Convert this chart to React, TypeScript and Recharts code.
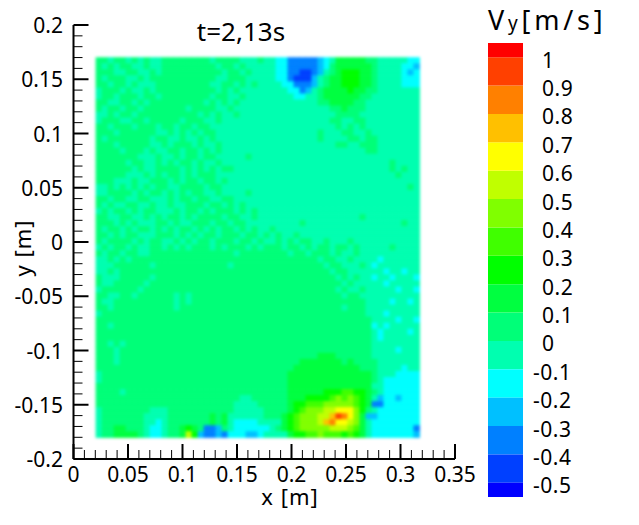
import { Bar, BarChart, Scatter, ScatterChart, XAxis, YAxis } from "recharts";

// contour bands, low to high: lower bound of each band and its colour
const bandKeys = ["a", "b", "c", "d", "e", "f", "g", "h", "i", "j", "k", "l", "m", "n", "o", "p", "q"];
const bandLows = [-0.55, -0.5, -0.4, -0.3, -0.2, -0.1, 0, 0.1, 0.2, 0.3, 0.4, 0.5, 0.6, 0.7, 0.8, 0.9, 1];
const bandHighs = [-0.5, -0.4, -0.3, -0.2, -0.1, 0, 0.1, 0.2, 0.3, 0.4, 0.5, 0.6, 0.7, 0.8, 0.9, 1, 1.05];
const bandColors = [
  "#0000ff", "#0040ff", "#0080ff", "#00c0ff", "#00ffff", "#00ffb0", "#00ff78", "#00ff40", "#00ff00",
  "#40ff00", "#80ff00", "#c0ff00", "#ffff00", "#ffc000", "#ff8000", "#ff4000", "#ff0000",
];
const legendTicks = [1, 0.9, 0.8, 0.7, 0.6, 0.5, 0.4, 0.3, 0.2, 0.1, 0, -0.1, -0.2, -0.3, -0.4, -0.5];

// measured field, top row first, one letter per cell = its band in bandKeys
const fieldRows = [
  "ggfggf gfgffg gggggg gfgggg fffgff eecccc cdefhh hhhggf ffffee",
  "gfgfgg ffgffg gggggg ggfggf gfffff eecccc cdeghh hhhhgf fffeed",
  "gggffg gffgfg gggggg gggfgg fgffff eeccbb cdfghi iihhgf fffede",
  "gfgggf fgfggg gggggg ggffgg gfffff eecbbb dfghhi iihhgf fffeee",
  "ggfggf gfffgg gggggg gffggf gfgfff feeccc dfghhi iihhgf fffeee",
  "fgggfg ffgfgg gggggg ggfgfg ffffff ffeecd fghhhh ihhggf ffffff",
  "fggfgg gfggfg gggggg gfggff gfffff fffeef fghhhh hhggff ffffff",
  "ggffgg fgfggg gggggg fgfgfg ffffff ffffff fgghhh hggfff ffffff",
  "gfggfg gfgggg gggfgg ggffgf ffffff ffffff fffggh gggfff ffffff",
  "ffgfgg fggggg gggggf gfgffg ffffff ffffff ffffgg ggffff ffffff",
  "fgggff ggfggg ggfggg ffgfff ffffff ffffff fffggf fggfff ffffff",
  "ggfggg fgggfg gfggfg gfffff ffffff ffffff ffffgf gfgfff ffffff",
  "gggfgg ggggff gfgfgf ggffff ffffff ffffff fgfffg gffgff ffffff",
  "gfgggg gggfgg ffgffg fgffff ffffff ffffff fgffff ggfggf ffffff",
  "gggfgg gggffg fgggfg ffgfff ffffff ffffff ffffgg ffgggf ffffff",
  "ggggfg ggfgff ggfggf gfgfff ffffff ffffff ffffff fffggf ffffff",
  "gggggg gfffgf fgfggf ggffff fgffff ffffff ffffff ffffff ffffff",
  "gggggf ggffgf gfggfg ffgfff ffffff ffffff ffffff ffffff fgffff",
  "gggggg fgffgg ggfgfg fgfggf ffffff ffffff ffffff ffffff fgfgff",
  "gggggf ffgfgf ggfgfg ggffff ffffff ffffff ffffff ffffff ffgfff",
  "gggfff gffggg fgfggf ggfgff ffffff ffffff ffffff ffffff ffffff",
  "ffgfgf gfgfgg ffgggg fggfff ffffff ffffff ffffff ffffff ffffgf",
  "ffgggg fgfggf gfgfgg ffgfff fgffff ffffff ffffff ffffff ffffff",
  "ggfggf fggfff gfggfg gffggf ffffff ffffff ffffff ffffff ffffff",
  "gfgffg gffgff gffggg fggfgf gfffff ffffff ffffff ffffff ffffff",
  "fgfggf gfggff fgfggf gfgggf gfgfff ffffff ffffff ffffff ffffff",
  "ggffgg ffgfgf ggfgfg gggfgg ffgfff ffffff ffffff ffgfff ffffff",
  "gggfgf gfffgg fgffgg gfggfg gfffff ffffgf ffffff ffffff fffgff",
  "gfggfg fggfgf gfggfg fgfggf gfgffg ffffff ffffff ffffff ffffff",
  "ggfgfg gfffgg gfgfgf ggfggg fggfgf gffgff ffffff ffffff ffffff",
  "gfgggg fgfggf fgfgfg gfgggf ggfgff gfgfgg ffgfff gfffff ffffff",
  "fgfggf gffggf gfgfgg gfgfgg gfgfgg gfggfg fggfgg fgffff fgffff",
  "gfggfg gffggg gggggg gggggf gggggg ggfggf gggfgf fgffff ffffff",
  "ffgfgf gggggg gggggg gggggg gggggg gggggg gfggff gffffe ffffff",
  "fffggg gggfgg gggggg ggggfg gggggg gggggg ggfggf ffgfef ffffff",
  "ffgfgg gggggg gggggg gggggg gggggg gggggg gggfgg ffffff effeff",
  "gfffgg gggfgg gggggg gggggg gggggg gggggg ggggfg fgffef fefffe",
  "gffggg ggfggg gggggg gggggg gggggg gggggg gggggf gfffff efffff",
  "fggggg gfgggg gggggg gggggg gggggg gggggg ggggfg ffgfff ffeffe",
  "ggffgg fggggg gfgfgg gggggg gggggg gggggg gggggf ggffff ffffff",
  "gffggg gggggg gfgfgg gggggg gggggg gggggg gggggg gggfff feffef",
  "ggfggg gggggg gfgggg gggggg gggggg gggggg gggggf gggfff ffffff",
  "fggggg gggggg gggggg gggggg gggggg gggggg gggggg gggfff efffff",
  "gggggg gggggg gggggg gggggg gggggg gggggg gggggg ggggff ffeffe",
  "ggfggg gggggg gggggg gggggg gggggg gggggg gggggg ggggef efffff",
  "gggggg gggggg gggggg gggggg gggggg gggggg gggggg ggggfe ffffef",
  "gggggg gggggg gggggg gggggg gggggg gggggg gggggg ggggfe ffffff",
  "ggfgfg gggggg gggggg gggggg gggggg gggggg gggggg ggggff ffffff",
  "gggfgg gggggg gggggg gggggg gggggg gggggg gggggg ggggff ffefff",
  "gggfgg gggggg gggggg gggggg gggggg gggggg ghhhgg ggggff ffffff",
  "gggfgg gggggg gggggg gggggg gggggg gggghh hhhhhg hggggf ffffff",
  "gggggg gggggg gggggg gggggg gggggg ggghhh hhhhhh hhgggf fffeff",
  "fggggg gggggg gggggg gggggg gggggg gghhhh hhhhhh hhhhgf ffeeee",
  "fggggg gggggg gggggg gggggg gggggg gghhhh hhhhhh hhhhgf eeeeee",
  "gggggg gggggg gggggg gggggg gggggg gghhhh hhhhhh hhhhff eeeeee",
  "ggggfg gggggg gggggg gggggg gggggg gghhhh hhiiij jiihgf eeeeee",
  "gggggg gggggg gggggg gggggg ffgggg gghhhi iiijkj kjihfd eedeee",
  "gggggg gggggg gggggg gggggf fffggg gghiij jjkkkk kjihcc eeeeee",
  "fggggg gggfff gggggg gggggf ffffgg gghijk kkllmm mkigfe eeeeee",
  "fggggg ggffff gggggg ghghff ffffgg ghijkk kllnpo mkhdde eeeeee",
  "fggggg ggffef gggggg ghghfe eeefff fhijkk klnomm lkhfee eeeeee",
  "fgghhg ggfeef gghihg ccdgfe eeeeef ghijkk kkklll kjhfee eeeeec",
  "fgghhh hgfeef gghlid ccdcee eddeff ffhiij jkjjji jihfee eeeeed",
];

// tick values on the two field axes
const xMajorTicks = [0, 0.05, 0.1, 0.15, 0.2, 0.25, 0.3, 0.35];
const yMajorTicks = [0.2, 0.15, 0.1, 0.05, 0, -0.05, -0.1, -0.15, -0.2];
const xTicks = Array.from({ length: 36 }, (_, i) => i / 100);
const yTicks = Array.from({ length: 41 }, (_, i) => (20 - i) / 100);

const X_START = 0.0206;
const X_STEP = 0.0055;
const Y_START = 0.17;
const Y_STEP = 0.00556;

const AXIS_LEFT = 73.5;
const AXIS_BOTTOM = 459;
const PLOT_W = 381.5;
const PLOT_H = 434;
const CELL_W = (X_STEP / 0.35) * PLOT_W + 0.6;
const CELL_H = (Y_STEP / 0.4) * PLOT_H + 0.6;

const FONT = "'Noto Sans', sans-serif";

const fieldData = fieldRows.flatMap((row, r) =>
  row
    .split(" ")
    .join("")
    .split("")
    .map((ch, c) => {
      const band = bandKeys.indexOf(ch);
      return {
        x: X_START + (c + 0.5) * X_STEP,
        y: Y_START - (r + 0.5) * Y_STEP,
        v: (bandLows[band] + bandHighs[band]) / 2,
        band,
      };
    })
);

// single row for the stacked colour bar
const legendRow: Record<string, number | string> = { name: "Vy" };
bandKeys.forEach((k, i) => {
  legendRow[k] = bandHighs[i] <= 0 ? bandLows[i] - bandHighs[i] : bandHighs[i] - bandLows[i];
});
// bands from zero outwards, so the stacks build up in order
const stackOrder = [6, 7, 8, 9, 10, 11, 12, 13, 14, 15, 16, 5, 4, 3, 2, 1, 0];

const FieldCell = (props: any) => (
  <rect
    x={props.cx - CELL_W / 2}
    y={props.cy - CELL_H / 2}
    width={CELL_W}
    height={CELL_H}
    fill={bandColors[props.payload.band]}
  />
);

const XTick = ({ x, payload }: any) => {
  const major = xMajorTicks.includes(payload.value);
  return (
    <g>
      <line x1={x} x2={x} y1={AXIS_BOTTOM} y2={AXIS_BOTTOM - (major ? 15 : 9)} stroke="#000" strokeWidth={major ? 2 : 1} />
      {major && (
        <text x={x} y={482} textAnchor="middle" fontFamily={FONT} fontSize={21} fill="#000">
          {payload.value}
        </text>
      )}
    </g>
  );
};

const YTick = ({ y, payload }: any) => {
  const major = yMajorTicks.includes(payload.value);
  return (
    <g>
      <line x1={AXIS_LEFT} x2={AXIS_LEFT + (major ? 15 : 9)} y1={y} y2={y} stroke="#000" strokeWidth={major ? 2 : 1} />
      {major && (
        <text x={63} y={y + 8} textAnchor="end" fontFamily={FONT} fontSize={21} fill="#000">
          {payload.value}
        </text>
      )}
    </g>
  );
};

const LegendTick = ({ y, payload }: any) => (
  <text
    x={payload.value < 0 ? 533 : 542}
    y={y + 10.5}
    fontFamily={FONT}
    fontSize={21}
    letterSpacing={0.5}
    fill="#000"
  >
    {payload.value}
  </text>
);

export default function App() {
  return (
    <div style={{ position: "absolute", left: 0, top: 0, width: 639, height: 525, background: "#fff" }}>
      <style>{`.recharts-scatter { filter: blur(1.4px); }`}</style>
      <div style={{ position: "absolute", left: 0, top: 0 }}>
        <ScatterChart width={639} height={525} margin={{ top: 25, right: 184, bottom: 0, left: 0 }}>
          <XAxis
            type="number"
            dataKey="x"
            domain={[0, 0.35]}
            ticks={xTicks}
            interval={0}
            height={66}
            tickLine={false}
            tick={<XTick />}
            axisLine={{ stroke: "#000", strokeWidth: 2 }}
          />
          <YAxis
            type="number"
            dataKey="y"
            domain={[-0.2, 0.2]}
            ticks={yTicks}
            interval={0}
            width={73.5}
            tickLine={false}
            tick={<YTick />}
            axisLine={{ stroke: "#000", strokeWidth: 2 }}
          />
          <Scatter data={fieldData} shape={<FieldCell />} isAnimationActive={false} legendType="none" />
          <text x={241} y={41} textAnchor="middle" fontFamily={FONT} fontSize={26} fill="#000">
            t=2,13s
          </text>
          <text x={290} y={505} textAnchor="middle" fontFamily={FONT} fontSize={22} letterSpacing={1} fill="#000">
            x [m]
          </text>
          <text
            x={31}
            y={248}
            textAnchor="middle"
            fontFamily={FONT}
            fontSize={22}
            letterSpacing={1}
            fill="#000"
            transform="rotate(-90 31 248)"
          >
            y [m]
          </text>
          <text x={488} y={30} fontFamily={FONT} fontSize={27} letterSpacing={3.8} fill="#000">
            V<tspan fontSize={19}>y</tspan>[m/s]
          </text>
        </ScatterChart>
      </div>
      <div style={{ position: "absolute", left: 0, top: 0 }}>
        <BarChart
          width={639}
          height={525}
          data={[legendRow]}
          stackOffset="sign"
          barCategoryGap={0}
          margin={{ top: 43, right: 0, bottom: 28, left: 488 }}
        >
          <XAxis dataKey="name" hide />
          <YAxis
            orientation="right"
            type="number"
            domain={[-0.55, 1.05]}
            ticks={legendTicks}
            interval={0}
            width={116}
            axisLine={false}
            tickLine={false}
            tick={<LegendTick />}
          />
          {stackOrder.map((i) => (
            <Bar key={bandKeys[i]} dataKey={bandKeys[i]} stackId="bands" fill={bandColors[i]} isAnimationActive={false} />
          ))}
        </BarChart>
      </div>
    </div>
  );
}
